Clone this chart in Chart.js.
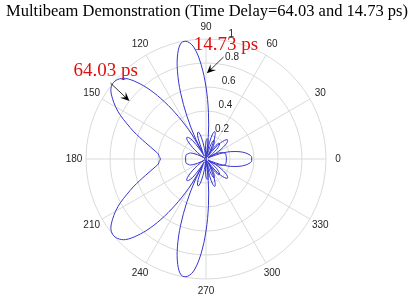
<!DOCTYPE html>
<html>
<head>
<meta charset="utf-8">
<script src="https://cdn.jsdelivr.net/npm/chart.js@4.4.1/dist/chart.umd.min.js"></script>
<style>
  html, body { margin: 0; padding: 0; background: #fff; }
  canvas { display: block; }
</style>
</head>
<body>
<canvas id="polar" width="410" height="297"></canvas>
<script>
const chartTitle = "Multibeam Demonstration (Time Delay=64.03 and 14.73 ps)";

// sample angles, degrees (counter-clockwise from 0 at the right)
const angleDeg = [0,3,6,9,12,15,18,21,24,27,30,33,36,39,42,45,48,51,54,57,
  60,63,66,69,72,75,78,81,84,87,90,93,96,99,102,105,108,111,114,117,
  120,123,126,129,132,135,138,141,144,147,150,153,156,159,162,165,168,171,174,177,
  180,183,186,189,192,195,198,201,204,207,210,213,216,219,222,225,228,231,234,237,
  240,243,246,249,252,255,258,261,264,267,270,273,276,279,282,285,288,291,294,297,
  300,303,306,309,312,315,318,321,324,327,330,333,336,339,342,345,348,351,354,357];

// beam steered by 64.03 ps delay (main lobes near 140 and 220 deg)
const beam64ps = [0.38,0.38,0.36,0.33,0.29,0.24,0.19,0.12,0.05,0.02,
  0.09,0.15,0.20,0.23,0.24,0.22,0.18,0.12,0.04,0.04,
  0.11,0.15,0.17,0.16,0.11,0.04,0.04,0.11,0.16,0.17,
  0.15,0.08,0.01,0.10,0.18,0.23,0.23,0.18,0.08,0.06,
  0.24,0.42,0.59,0.74,0.86,0.95,0.99,1.00,0.98,0.93,
  0.87,0.80,0.72,0.65,0.58,0.52,0.47,0.43,0.40,0.39,
  0.38,0.39,0.40,0.43,0.47,0.52,0.58,0.65,0.72,0.80,
  0.87,0.93,0.98,1.00,0.99,0.95,0.86,0.74,0.59,0.42,
  0.24,0.06,0.08,0.18,0.23,0.23,0.18,0.10,0.01,0.08,
  0.15,0.17,0.16,0.11,0.04,0.04,0.11,0.16,0.17,0.15,
  0.11,0.04,0.04,0.12,0.18,0.22,0.24,0.23,0.20,0.15,
  0.09,0.02,0.05,0.12,0.19,0.24,0.29,0.33,0.36,0.38];

// beam steered by 14.73 ps delay (main lobes near 100 and 260 deg)
const beam14ps = [0.17,0.17,0.17,0.17,0.17,0.17,0.16,0.15,0.13,0.10,
  0.07,0.03,0.02,0.07,0.12,0.15,0.17,0.17,0.14,0.09,
  0.02,0.07,0.15,0.21,0.24,0.22,0.14,0.00,0.18,0.39,
  0.60,0.79,0.93,0.99,0.99,0.91,0.77,0.59,0.39,0.20,
  0.03,0.10,0.19,0.23,0.24,0.22,0.17,0.12,0.06,0.01,
  0.04,0.08,0.11,0.14,0.15,0.16,0.17,0.17,0.17,0.17,
  0.17,0.17,0.17,0.17,0.17,0.16,0.15,0.14,0.11,0.08,
  0.04,0.01,0.06,0.12,0.17,0.22,0.24,0.23,0.19,0.10,
  0.03,0.20,0.39,0.59,0.77,0.91,0.99,0.99,0.93,0.79,
  0.60,0.39,0.18,0.00,0.14,0.22,0.24,0.21,0.15,0.07,
  0.02,0.09,0.14,0.17,0.17,0.15,0.12,0.07,0.02,0.03,
  0.07,0.10,0.13,0.15,0.16,0.17,0.17,0.17,0.17,0.17];

const angleTicks = [0,30,60,90,120,150,180,210,240,270,300,330];
const radiusTicks = [0.2,0.4,0.6,0.8,1];

// callouts in axis units (x right, y up, 1 = outer ring)
const callouts = [
  { text: "64.03 ps", at: [-1.104, 0.692], from: [-0.796, 0.633], to: [-0.638, 0.483] },
  { text: "14.73 ps", at: [-0.102, 0.908], from: [0.146, 0.850], to: [0.007, 0.714] }
];

const lineBlue = "#3535d0";
const gridGrey = "#dadada";

// radar runs clockwise, so walk the samples backwards from 0 deg
const order = angleDeg.map((_, i) => (angleDeg.length - i) % angleDeg.length);
const labels = order.map(i => angleDeg[i]);
const pick = arr => order.map(i => arr[i]);

function arrow(ctx, x0, y0, x1, y1) {
  const dx = x1 - x0, dy = y1 - y0, len = Math.hypot(dx, dy);
  const ux = dx / len, uy = dy / len, hl = 9, hw = 4;
  ctx.beginPath();
  ctx.moveTo(x0, y0);
  ctx.lineTo(x1 - ux * hl * 0.5, y1 - uy * hl * 0.5);
  ctx.stroke();
  ctx.beginPath();
  ctx.moveTo(x1, y1);
  ctx.lineTo(x1 - ux * hl - uy * hw, y1 - uy * hl + ux * hw);
  ctx.lineTo(x1 - ux * hl * 0.6, y1 - uy * hl * 0.6);
  ctx.lineTo(x1 - ux * hl + uy * hw, y1 - uy * hl - ux * hw);
  ctx.closePath();
  ctx.fill();
}

const polarText = {
  id: "polarText",
  afterDraw(chart) {
    const ctx = chart.ctx, s = chart.scales.r;
    const R = s.getDistanceFromCenterForValue(1);
    const px = (p) => [s.xCenter + p[0] * R, s.yCenter - p[1] * R];
    ctx.save();

    ctx.fillStyle = "#000";
    ctx.font = '16.5px "Liberation Serif", "Times New Roman", serif';
    ctx.textAlign = "center";
    ctx.textBaseline = "alphabetic";
    ctx.fillText(chartTitle, s.xCenter + 1, 15.5);

    ctx.font = '10px "Liberation Sans", Arial, sans-serif';
    ctx.fillStyle = "#262626";
    ctx.textBaseline = "middle";
    angleTicks.forEach(a => {
      const p = s.getPointPositionForValue(labels.indexOf(a), 1.1);
      ctx.fillText(String(a), p.x, p.y);
    });

    ctx.textAlign = "left";
    ctx.textBaseline = "bottom";
    const a82 = 82 * Math.PI / 180;
    radiusTicks.forEach(v => {
      const d = s.getDistanceFromCenterForValue(v + 0.01);
      ctx.fillText("  " + v, s.xCenter + d * Math.cos(a82), s.yCenter - d * Math.sin(a82));
    });

    callouts.forEach(c => {
      ctx.fillStyle = "#e01010";
      ctx.font = '19px "Liberation Serif", "Times New Roman", serif';
      ctx.textBaseline = "alphabetic";
      const t = px(c.at);
      ctx.fillText(c.text, t[0], t[1]);
      ctx.fillStyle = "#000";
      ctx.strokeStyle = "#000";
      ctx.lineWidth = 0.8;
      const a = px(c.from), b = px(c.to);
      arrow(ctx, a[0], a[1], b[0], b[1]);
    });
    ctx.restore();
  }
};

new Chart(document.getElementById("polar"), {
  type: "radar",
  data: {
    labels: labels,
    datasets: [
      { label: "64.03 ps", data: pick(beam64ps) },
      { label: "14.73 ps", data: pick(beam14ps) }
    ]
  },
  options: {
    responsive: false,
    devicePixelRatio: 1,
    animation: false,
    layout: { padding: { left: 86, right: 84, top: 39, bottom: 18 } },
    elements: {
      line: { borderColor: lineBlue, borderWidth: 1, tension: 0.35, fill: false },
      point: { radius: 0, hoverRadius: 0 }
    },
    plugins: { legend: { display: false }, tooltip: { enabled: false } },
    scales: {
      r: {
        min: 0, max: 1, startAngle: 90,
        ticks: { display: false, stepSize: 0.2 },
        pointLabels: { display: false },
        grid: { circular: true, color: gridGrey, lineWidth: 1 },
        angleLines: { display: true, color: gridGrey, lineWidth: c => (c.index % 10 === 0 ? 1 : 0) }
      }
    }
  },
  plugins: [polarText]
});
</script>
</body>
</html>
